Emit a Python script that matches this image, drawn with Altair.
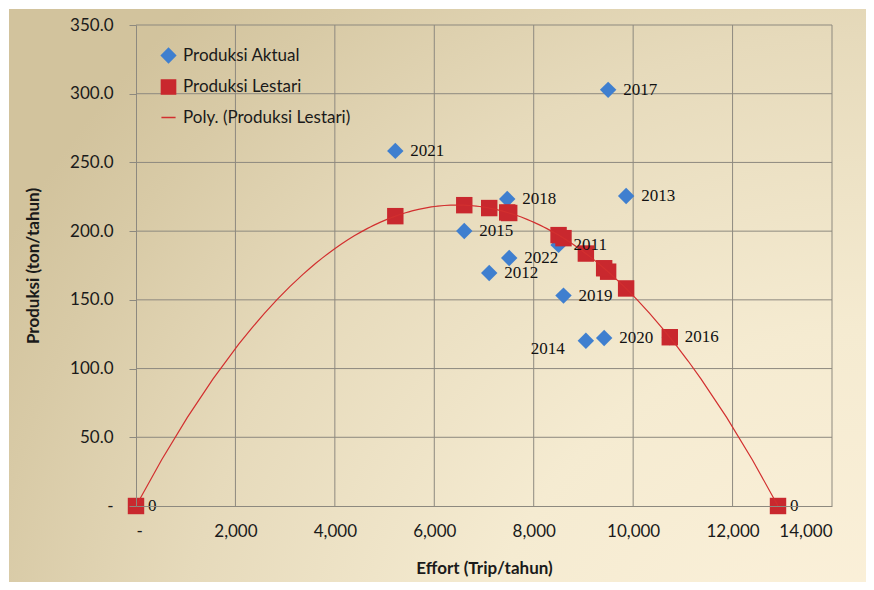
import altair as alt
import pandas as pd

# ---- data ----
years = [2011, 2012, 2013, 2014, 2015, 2016, 2017, 2018, 2019, 2020, 2021, 2022]
effort = [8500, 7105, 9859, 9049, 6603, 10737, 9497, 7467, 8599, 9417, 5216, 7507]
aktual = [190.0, 169.6, 225.6, 120.3, 200.1, 122.8, 302.8, 223.4, 153.1, 122.3, 258.4, 180.5]
lestari = [197.1, 216.8, 158.3, 183.7, 218.9, 122.8, 170.5, 213.6, 194.9, 173.0, 210.9, 213.2]
# end points of the sustainable yield curve (E = 0 and E = 2*Eopt)
lestari_end_effort = [0, 12914]
lestari_end_value = [0.0, 0.0]

# axis tick values
x_ticks = [0, 2000, 4000, 6000, 8000, 10000, 12000, 14000]
y_ticks = [0, 50, 100, 150, 200, 250, 300, 350]

S_AKT = "Produksi Aktual"
S_LES = "Produksi Lestari"
S_POLY = "Poly. (Produksi Lestari)"

akt_df = pd.DataFrame({"effort": effort, "value": aktual, "series": S_AKT,
                       "year": [str(y) for y in years]})
les_df = pd.DataFrame({"effort": effort + lestari_end_effort,
                       "value": lestari + lestari_end_value, "series": S_LES,
                       "year": [str(y) for y in years] + ["", ""]})
pts_df = pd.concat([akt_df, les_df], ignore_index=True)
xg_df = pd.DataFrame({"effort": x_ticks[1:]})
yg_df = pd.DataFrame({"value": y_ticks[1:]})

W, H = 696, 481
PAD = {"left": 128, "top": 17, "right": 34, "bottom": 76}

domain = [S_AKT, S_LES, S_POLY]
color_scale = alt.Scale(domain=domain, range=["#3f7fcf", "#c9282e", "#d22f2f"])
shape_scale = alt.Scale(domain=domain, range=["diamond", "square", "stroke"])
x_scale = alt.Scale(domain=[0, 14000], nice=False)
y_scale = alt.Scale(domain=[0, 350], nice=False)

x_enc = alt.X("effort:Q", scale=x_scale,
              axis=alt.Axis(values=x_ticks, grid=False, zindex=1,
                            labelExpr="datum.value == 0 ? '-' : format(datum.value, ',')",
                            title="Effort (Trip/tahun)", ticks=False,
                            labelPadding=17, titlePadding=21))
y_enc = alt.Y("value:Q", scale=y_scale,
              axis=alt.Axis(values=y_ticks, grid=False, zindex=1,
                            labelExpr="datum.value == 0 ? '-' : format(datum.value, '.1f')",
                            title="Produksi (ton/tahun)", ticks=True, tickSize=7,
                            labelPadding=16, titlePadding=27))

base = alt.Chart(pts_df)

bg = alt.Chart(pts_df).mark_rect(
    fill=alt.RadialGradient(
        gradient="radial", x1=1, y1=1, r1=0, x2=1, y2=1, r2=1.15,
        stops=[alt.GradientStop(offset=0, color="#fdf2dc"),
               alt.GradientStop(offset=0.4, color="#f5ebd1"),
               alt.GradientStop(offset=0.7, color="#e6dabb"),
               alt.GradientStop(offset=0.9, color="#d8caa6"),
               alt.GradientStop(offset=1, color="#d2c39d")]),
).encode(x=alt.value(-PAD["left"] + 1), x2=alt.value(W + PAD["right"]),
         y=alt.value(-PAD["top"] + 1), y2=alt.value(H + PAD["bottom"]))

grid_color = "#8d897f"
xgrid = alt.Chart(xg_df).mark_rule(color=grid_color, strokeWidth=1).encode(
    x=alt.X("effort:Q", scale=x_scale), y=alt.value(0), y2=alt.value(H))
ygrid = alt.Chart(yg_df).mark_rule(color=grid_color, strokeWidth=1).encode(
    y=alt.Y("value:Q", scale=y_scale), x=alt.value(0), x2=alt.value(W))

points = base.mark_point(filled=True, opacity=1, size=270).encode(
    x=x_enc, y=y_enc,
    color=alt.Color("series:N", scale=color_scale,
                    legend=alt.Legend(title=None, orient="none", legendX=24, legendY=22,
                                      labelFont="Lato", labelFontSize=17, labelColor="#1a1a1a",
                                      labelLimit=400, symbolSize=200, rowPadding=10.5,
                                      labelOffset=6, symbolStrokeWidth=1.5)),
    shape=alt.Shape("series:N", scale=shape_scale),
    order=alt.Order("series:N", sort="ascending"),
)

poly = base.transform_filter(alt.datum.series == S_LES).transform_regression(
    "effort", "value", method="poly", order=2, extent=[0, 12914]
).transform_calculate(series=f"'{S_POLY}'").mark_line(strokeWidth=1.2).encode(
    x="effort:Q", y="value:Q",
    color=alt.Color("series:N", scale=color_scale),
)

txt = dict(font="Liberation Serif", fontSize=17, color="#111", baseline="middle")
labels = base.transform_filter(
    (alt.datum.series == S_AKT) & (alt.datum.year != "2014")
).mark_text(align="left", dx=15, **txt).encode(x="effort:Q", y="value:Q", text="year:N")

label14 = base.transform_filter(
    (alt.datum.series == S_AKT) & (alt.datum.year == "2014")
).mark_text(align="right", dx=-21, dy=8, **txt).encode(x="effort:Q", y="value:Q", text="year:N")

zeros = base.transform_filter(
    (alt.datum.series == S_LES) & (alt.datum.value == 0)
).mark_text(align="left", dx=12, **txt).encode(x="effort:Q", y="value:Q", text=alt.value("0"))

chart = alt.layer(bg, xgrid, ygrid, points, poly, labels, label14, zeros).properties(
    width=W, height=H, padding=PAD,
    autosize=alt.AutoSizeParams(type="none"),
    background="white",
).configure_view(strokeWidth=0).configure_axis(
    domainColor=grid_color, tickColor=grid_color,
    labelFont="Lato", labelFontSize=17, labelColor="#1a1a1a",
    titleFont="Lato", titleFontSize=17, titleFontWeight="bold", titleColor="#1a1a1a",
)

chart.save("out.html", embed_options={"renderer": "svg", "actions": False})
